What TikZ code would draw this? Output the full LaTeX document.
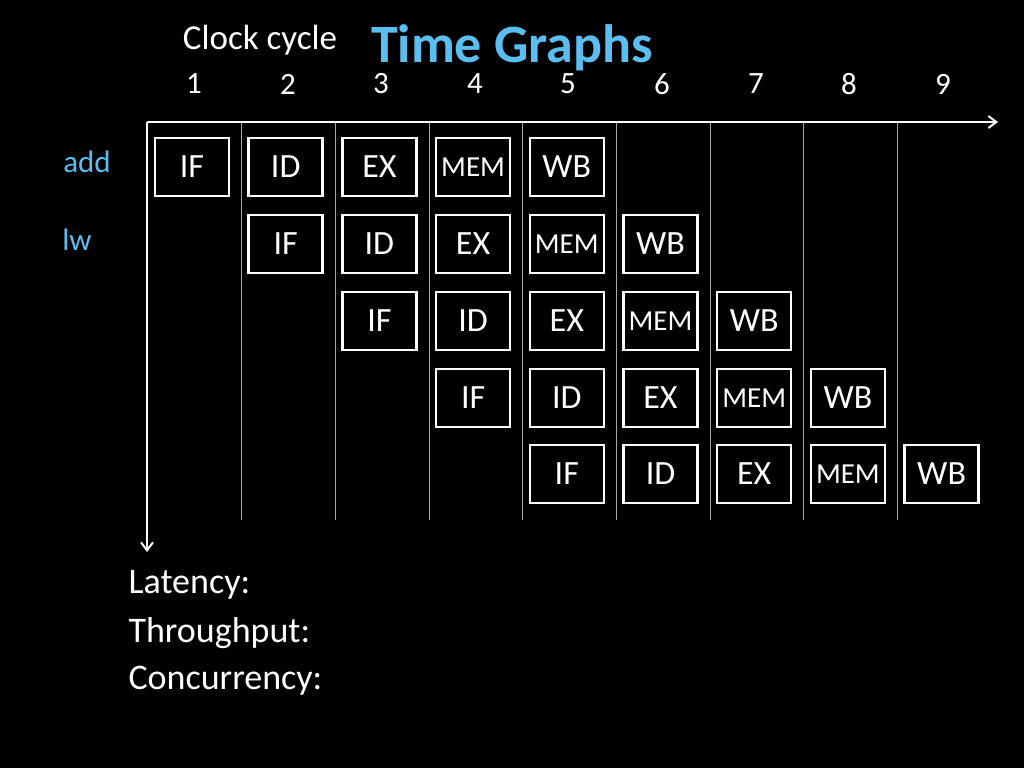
\documentclass[tikz,border=0pt]{standalone}
\usepackage{fontspec}
\usetikzlibrary{arrows.meta}
\setmainfont{Carlito}
\begin{document}
\begin{tikzpicture}[x=1pt,y=-1pt,
  stg/.style={draw=white,line width=2.5pt,minimum width=74pt,minimum height=58pt,inner sep=0pt,text=white,font=\fontsize{34}{34}\selectfont},
  num/.style={text=white,font=\fontsize{31}{31}\selectfont},
  lbl/.style={text=white,font=\fontsize{36}{36}\selectfont,anchor=west}]
\fill[black] (0,0) rectangle (1024,768);
\useasboundingbox (0,0) rectangle (1024,768);
\definecolor{tblue}{RGB}{90,190,240}
\node[text=tblue,font=\fontsize{54}{54}\selectfont\bfseries] (title) at (512,48) {Time Graphs};
\node[text=white,font=\fontsize{35}{35}\selectfont] (cc) at (260,40) {Clock cycle};
\foreach \i/\x in {1/194,2/288,3/381,4/475,5/568,6/662,7/756,8/849,9/943}
  \node[num] (n\i) at (\x,84) {\i};
\foreach \x in {241,335,429,522,616,710,803,897}
  \draw[gray!70,line width=0.6pt] (\x,122) -- (\x,520);
\coordinate (o) at (147,122);
\coordinate (xe) at (998,122);
\coordinate (ye) at (147,552);
\draw[white,line width=2pt,-{Straight Barb[length=8pt,width=12pt]}] (o) -- (xe);
\draw[white,line width=2pt,-{Straight Barb[length=8pt,width=12pt]}] (o) -- (ye);
\node[text=tblue,font=\fontsize{31}{31}\selectfont] (add) at (87,162) {add};
\node[text=tblue,font=\fontsize{31}{31}\selectfont] (lw) at (77,240) {lw};
\newcommand{\memtxt}{{\fontsize{29}{29}\selectfont MEM}}
\foreach \r/\y in {0/167,1/244,2/321,3/398,4/474}{
  \foreach \s/\t in {0/IF,1/ID,2/EX,3/\memtxt,4/WB}{
    \pgfmathsetmacro{\xx}{192+93.7*(\r+\s)}
    \node[stg] (b\r\s) at (\xx,\y) {\t};
  }
}
\node[lbl] (lat) at (125,585) {Latency:};
\node[lbl] (thr) at (125,633) {Throughput:};
\node[lbl] (con) at (125,681) {Concurrency:};
\end{tikzpicture}
\end{document}
